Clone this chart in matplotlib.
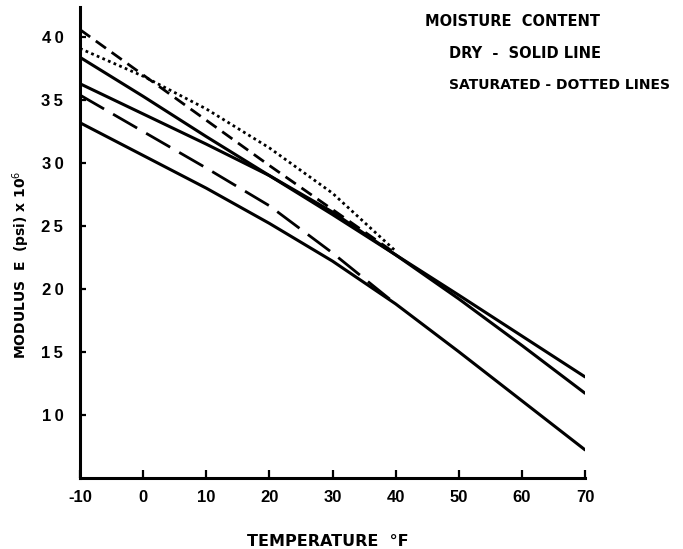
import matplotlib
matplotlib.use("Agg")
import matplotlib.pyplot as plt
from matplotlib.ticker import FixedLocator, FuncFormatter

plt.rcParams['lines.scale_dashes'] = False

# Temperature (deg F) grid for the curves
temp_dry = [-10, 0, 10, 20, 30, 40, 50, 60, 70]
temp_sat = [-10, 0, 10, 20, 30, 40]

# Dry specimens (solid lines), modulus E in psi x 10^6
dry_a = [38.4, 35.3, 32.1, 29.0, 25.9, 22.7, 19.5, 16.25, 13.0]
dry_b = [36.3, 33.9, 31.5, 29.0, 26.1, 22.7, 19.2, 15.5, 11.7]
dry_c = [33.2, 30.6, 28.0, 25.2, 22.2, 18.8, 15.0, 11.1, 7.2]

# Saturated specimens (broken lines)
sat_dash = [40.6, 37.0, 33.4, 29.8, 26.3, 22.8]
sat_dot = [39.1, 36.9, 34.3, 31.2, 27.6, 23.0]
sat_long = [35.4, 32.5, 29.6, 26.6, 22.85, 18.8]

x_ticks = [-10, 0, 10, 20, 30, 40, 50, 60, 70]
y_ticks = [10, 15, 20, 25, 30, 35, 40]

W, H = 683, 549
fig = plt.figure(figsize=(W / 100, H / 100), dpi=100)
fig.patch.set_facecolor('white')

ax = fig.add_axes([80 / W, 1 - 477.5 / H, 505 / W, 470.5 / H])
ax.set_xlim(-10, 70)
ax.set_ylim(5, 42.4)

lw = 2.2
for ys in (dry_a, dry_b, dry_c):
    ax.plot(temp_dry, ys, color='black', lw=lw, solid_capstyle='round',
            solid_joinstyle='round')

ax.plot(temp_sat, sat_dash, color='black', lw=2.0, dashes=(9, 5))
ax.plot(temp_sat, sat_dot, color='black', lw=2.0, dashes=(2, 2.4))
ax.plot(temp_sat, sat_long, color='black', lw=2.0, dashes=(20, 7.5))

for side in ('top', 'right'):
    ax.spines[side].set_visible(False)
for side in ('left', 'bottom'):
    ax.spines[side].set_linewidth(2.2)
    ax.spines[side].set_color('black')

ax.xaxis.set_major_locator(FixedLocator(x_ticks))
ax.yaxis.set_major_locator(FixedLocator(y_ticks))
ax.xaxis.set_major_formatter(FuncFormatter(lambda v, p: f"{v:.0f}"))
# lettered digits on the modulus axis are spaced apart
ax.yaxis.set_major_formatter(FuncFormatter(lambda v, p: "\u2009".join(f"{v:.0f}")))
ax.tick_params(axis='x', direction='in', length=6, width=1.6, pad=9,
               labelsize=12)
ax.tick_params(axis='y', direction='in', length=4, width=1.6, pad=12,
               labelsize=12)
for lab in ax.xaxis.get_ticklabels() + ax.yaxis.get_ticklabels():
    lab.set_family('Liberation Sans')
    lab.set_weight('bold')

label_font = dict(family='DejaVu Sans', weight='bold')
fig.text(328 / W, 1 - 541 / H, 'TEMPERATURE  °F', ha='center', va='center',
         size=11.5, **label_font)
fig.text(21 / W, 1 - 265 / H, r'MODULUS  E  (psi) x 10$^{6}$', ha='center',
         va='center', rotation=90, size=10, **label_font)

fig.text(425 / W, 1 - 21 / H, 'MOISTURE  CONTENT', ha='left', va='center',
         size=10.5, **label_font)
fig.text(449 / W, 1 - 54 / H, 'DRY  -  SOLID LINE', ha='left', va='center',
         size=10.5, **label_font)
fig.text(449 / W, 1 - 85 / H, 'SATURATED - DOTTED LINES', ha='left', va='center',
         size=10, **label_font)

fig.savefig('out.png', dpi=100, facecolor='white')
